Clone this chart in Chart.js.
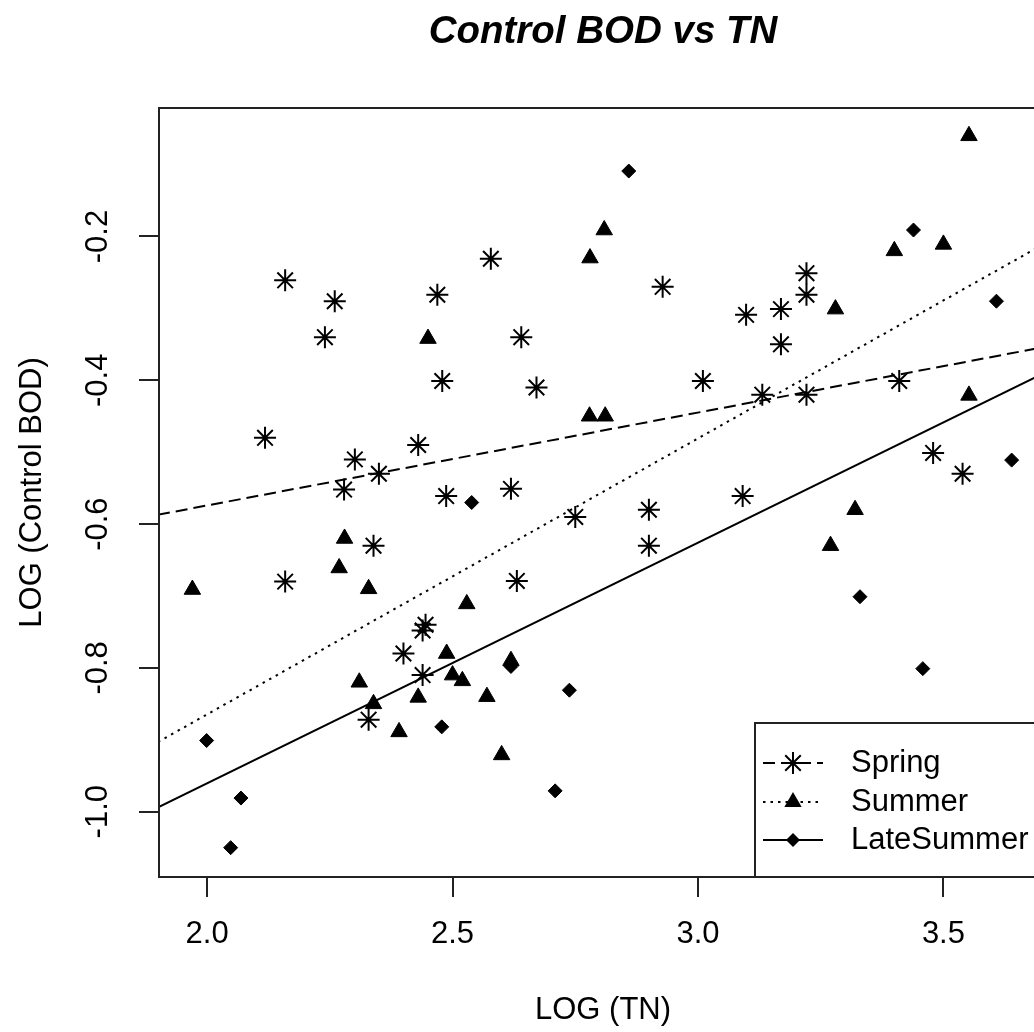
<!DOCTYPE html>
<html>
<head>
<meta charset="utf-8">
<title>Control BOD vs TN</title>
<script src="https://cdn.jsdelivr.net/npm/chart.js@4.4.1/dist/chart.umd.min.js"></script>
<style>
  html, body { margin: 0; padding: 0; background: #fff; overflow: hidden; }
  #wrap { width: 1100px; height: 1032px; }
</style>
</head>
<body>
<div id="wrap"><canvas id="chart" width="1100" height="1032"></canvas></div>
<script>
const seriesNames = ['Spring', 'Summer', 'LateSummer'];

// LOG (TN) / LOG (Control BOD)
const springX = [2.159, 2.260, 2.240, 2.469, 2.578, 2.640, 2.928, 3.098, 3.221, 3.221,
                 3.169, 3.169, 2.479, 2.118, 2.430, 2.301, 2.350, 2.279, 2.487, 2.339,
                 2.159, 2.671, 3.010, 2.619, 2.750, 2.900, 2.900, 2.631, 3.091, 3.131,
                 3.221, 3.410, 3.479, 3.539, 2.445, 2.439, 2.400, 2.439, 2.329];
const springY = [-0.261, -0.290, -0.340, -0.281, -0.231, -0.340, -0.270, -0.309, -0.251, -0.281,
                 -0.301, -0.350, -0.401, -0.480, -0.490, -0.510, -0.530, -0.552, -0.561, -0.630,
                 -0.680, -0.410, -0.401, -0.551, -0.590, -0.580, -0.630, -0.679, -0.561, -0.420,
                 -0.420, -0.401, -0.501, -0.530, -0.740, -0.748, -0.780, -0.810, -0.872];

const summerX = [2.450, 2.809, 2.780, 3.552, 3.400, 3.500, 3.280, 2.280, 2.269, 2.329,
                 1.970, 2.779, 2.811, 2.529, 3.552, 3.320, 3.270, 2.310, 2.339, 2.488,
                 2.500, 2.430, 2.391, 2.520, 2.570, 2.600, 2.619];
const summerY = [-0.342, -0.191, -0.230, -0.060, -0.220, -0.211, -0.301, -0.620, -0.661, -0.690,
                 -0.691, -0.450, -0.450, -0.711, -0.421, -0.580, -0.630, -0.820, -0.850, -0.780,
                 -0.810, -0.841, -0.889, -0.818, -0.840, -0.921, -0.790];

const lateX = [2.859, 3.439, 3.608, 2.539, 3.639, 3.330, 1.999, 2.069, 2.048, 2.478,
               2.738, 2.709, 2.619, 3.458];
const lateY = [-0.109, -0.191, -0.290, -0.570, -0.511, -0.701, -0.901, -0.981, -1.050, -0.882,
               -0.831, -0.971, -0.798, -0.801];

// fitted lines, y at the two ends of fitX
const fitX = [1.9, 3.75];
const springFit = [-0.587, -0.348];
const summerFit = [-0.903, -0.193];
const lateFit = [-0.994, -0.375];

const xTicks = [2.0, 2.5, 3.0, 3.5];
const yTicks = [-1.0, -0.8, -0.6, -0.4, -0.2];

const FONT = '"Liberation Sans", Arial, sans-serif';

function pts(xs, ys) {
  return xs.map((x, i) => ({ x: x, y: ys[i] }));
}

function drawMarker(ctx, style, x, y, r) {
  ctx.beginPath();
  if (style === 'star') {
    const d = r * Math.SQRT1_2;
    ctx.moveTo(x - r, y); ctx.lineTo(x + r, y);
    ctx.moveTo(x, y - r); ctx.lineTo(x, y + r);
    ctx.moveTo(x - d, y - d); ctx.lineTo(x + d, y + d);
    ctx.moveTo(x - d, y + d); ctx.lineTo(x + d, y - d);
    ctx.lineWidth = 2;
    ctx.stroke();
    return;
  }
  if (style === 'triangle') {
    ctx.moveTo(x, y - r);
    ctx.lineTo(x + r * 0.866, y + r / 2);
    ctx.lineTo(x - r * 0.866, y + r / 2);
  } else {
    ctx.moveTo(x - r, y); ctx.lineTo(x, y - r);
    ctx.lineTo(x + r, y); ctx.lineTo(x, y + r);
  }
  ctx.closePath();
  ctx.fill();
}

const rPlot = {
  id: 'rPlot',
  afterDraw(chart) {
    const ctx = chart.ctx;
    const a = chart.chartArea;
    ctx.save();
    ctx.fillStyle = '#000';
    ctx.strokeStyle = '#000';

    // title
    ctx.font = 'italic bold 38.5px ' + FONT;
    ctx.textAlign = 'center';
    ctx.textBaseline = 'middle';
    ctx.fillText('Control BOD vs TN', (a.left + a.right) / 2, 32);

    // y tick labels, parallel to the axis
    ctx.font = '31px ' + FONT;
    const ys = chart.scales.y;
    ys.ticks.forEach(t => {
      ctx.save();
      ctx.translate(98, ys.getPixelForValue(t.value));
      ctx.rotate(-Math.PI / 2);
      ctx.fillText(t.value.toFixed(1), 0, 0);
      ctx.restore();
    });

    // plot box
    ctx.lineWidth = 2;
    ctx.strokeStyle = '#222';
    ctx.strokeRect(a.left, a.top, a.right - a.left, a.bottom - a.top);

    // legend, bottom right
    const lx = 755, ly = 723;
    ctx.fillStyle = '#fff';
    ctx.fillRect(lx, ly, a.right - lx, a.bottom - ly);
    ctx.strokeRect(lx, ly, a.right - lx, a.bottom - ly);
    const rows = [763, 802, 840];
    const looks = [
      { style: 'star', r: 11, dash: [12, 6] },
      { style: 'triangle', r: 10, dash: [2.5, 5] },
      { style: 'rectRot', r: 7, dash: [] }
    ];
    ctx.fillStyle = '#000';
    ctx.strokeStyle = '#000';
    rows.forEach((y, i) => {
      ctx.lineWidth = 2;
      ctx.setLineDash(looks[i].dash);
      ctx.beginPath();
      ctx.moveTo(763, y);
      ctx.lineTo(823, y);
      ctx.stroke();
      ctx.setLineDash([]);
      drawMarker(ctx, looks[i].style, 793, y, looks[i].r);
      ctx.font = '31px ' + FONT;
      ctx.textAlign = 'left';
      ctx.textBaseline = 'middle';
      ctx.fillText(seriesNames[i], 851, y);
    });
    ctx.restore();
  }
};

const ctx = document.getElementById('chart').getContext('2d');
new Chart(ctx, {
  type: 'scatter',
  data: {
    datasets: [
      {
        label: seriesNames[0],
        data: pts(springX, springY),
        pointStyle: 'star',
        pointRadius: 11,
        pointBorderWidth: 2,
        borderColor: '#000',
        backgroundColor: '#000'
      },
      {
        label: seriesNames[1],
        data: pts(summerX, summerY),
        pointStyle: 'triangle',
        pointRadius: 9.5,
        pointBorderWidth: 1,
        borderColor: '#000',
        backgroundColor: '#000'
      },
      {
        label: seriesNames[2],
        data: pts(lateX, lateY),
        pointStyle: 'rectRot',
        pointRadius: 7,
        pointBorderWidth: 1,
        borderColor: '#000',
        backgroundColor: '#000'
      },
      {
        label: seriesNames[0] + ' fit',
        data: pts(fitX, springFit),
        showLine: true,
        pointRadius: 0,
        borderColor: '#000',
        borderWidth: 2,
        borderDash: [12, 6]
      },
      {
        label: seriesNames[1] + ' fit',
        data: pts(fitX, summerFit),
        showLine: true,
        pointRadius: 0,
        borderColor: '#000',
        borderWidth: 2,
        borderDash: [2.5, 5]
      },
      {
        label: seriesNames[2] + ' fit',
        data: pts(fitX, lateFit),
        showLine: true,
        pointRadius: 0,
        borderColor: '#000',
        borderWidth: 2
      }
    ]
  },
  options: {
    responsive: false,
    animation: false,
    events: [],
    layout: { padding: { top: 108, right: 53, left: 0, bottom: 0 } },
    plugins: {
      legend: { display: false },
      tooltip: { enabled: false },
      title: { display: false }
    },
    scales: {
      x: {
        type: 'linear',
        min: 1.902,
        max: 3.711,
        afterFit: s => { s.height = 155; },
        afterBuildTicks: s => { s.ticks = xTicks.map(v => ({ value: v })); },
        grid: { drawOnChartArea: false, tickLength: 20, color: '#222', lineWidth: 2 },
        border: { display: false },
        ticks: {
          padding: 19,
          color: '#000',
          autoSkip: false,
          maxRotation: 0,
          font: { family: FONT, size: 31 },
          callback: v => v.toFixed(1)
        },
        title: {
          display: true,
          text: 'LOG (TN)',
          color: '#000',
          font: { family: FONT, size: 31 },
          padding: { top: 0, bottom: 3 }
        }
      },
      y: {
        type: 'linear',
        min: -1.0908,
        max: -0.0213,
        afterFit: s => { s.width = 159; },
        afterBuildTicks: s => { s.ticks = yTicks.map(v => ({ value: v })); },
        grid: { drawOnChartArea: false, tickLength: 20, color: '#222', lineWidth: 2 },
        border: { display: false },
        ticks: { display: false },
        title: {
          display: true,
          text: 'LOG (Control BOD)',
          color: '#000',
          font: { family: FONT, size: 31 },
          padding: { top: 14, bottom: 0 }
        }
      }
    }
  },
  plugins: [rPlot]
});
</script>
</body>
</html>
